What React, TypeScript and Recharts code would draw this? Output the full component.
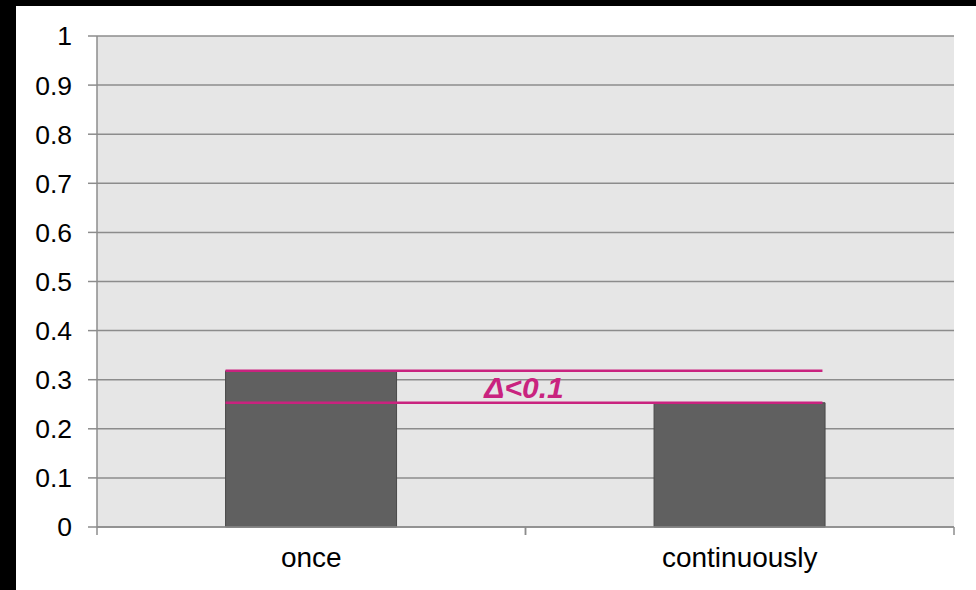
import React from 'react';
import { BarChart, Bar, XAxis, YAxis, CartesianGrid, ReferenceLine, Label } from 'recharts';

// Share of trials per presentation mode
const categories = ['once', 'continuously'];
const shares = [0.318, 0.253];
const yTicks = [0, 0.1, 0.2, 0.3, 0.4, 0.5, 0.6, 0.7, 0.8, 0.9, 1];
const deltaLabel = 'Δ<0.1';

// slot: centre of each category band on a continuous 0..n scale
const rows = categories.map((name, i) => ({ name, value: shares[i], slot: i + 0.5 }));

const FONT = '"Liberation Sans", Arial, sans-serif';
const AXIS_GREY = '#8c8c8c';
const MAGENTA = '#c9237f';

// Horizontal span of the comparison bracket, in units of category bands
const bracketFrom = 0.3;
const bracketTo = 1.693;

// Category tick: label under the band centre, tick marks on the band edges
function CategoryTick(props: any) {
  const { x, y, payload } = props;
  const half = payload?.offset ?? 0;
  return (
    <g>
      <line x1={x - half} y1={y} x2={x - half} y2={y + 8} stroke={AXIS_GREY} strokeWidth={1.5} />
      <line x1={x + half} y1={y} x2={x + half} y2={y + 8} stroke={AXIS_GREY} strokeWidth={1.5} />
      <text
        x={x}
        y={y + 20}
        dy="0.71em"
        textAnchor="middle"
        fill="#000"
        fontSize={28}
        fontFamily={FONT}
      >
        {payload.value}
      </text>
    </g>
  );
}

export default function App() {
  return (
    <div style={{ position: 'absolute', left: 0, top: 0, width: 976, height: 590, background: '#000' }}>
      <div style={{ position: 'absolute', left: 16, top: 6, width: 960, height: 584, background: '#fff' }}>
        <BarChart
          width={960}
          height={584}
          data={rows}
          margin={{ top: 30, right: 22, left: 0, bottom: 0 }}
          barCategoryGap="30%"
        >
          <CartesianGrid
            xAxisId="cat"
            vertical={false}
            fill="#e6e6e6"
            fillOpacity={1}
            stroke={AXIS_GREY}
            strokeWidth={1.5}
          />
          <XAxis
            xAxisId="num"
            dataKey="slot"
            type="number"
            domain={[0, 2]}
            allowDataOverflow
            hide
          />
          <XAxis
            xAxisId="cat"
            dataKey="name"
            height={63}
            axisLine={{ stroke: AXIS_GREY, strokeWidth: 1.5 }}
            tickLine={false}
            tickSize={0}
            tickMargin={0}
            tick={<CategoryTick />}
          />
          <YAxis
            width={81}
            domain={[0, 1]}
            ticks={yTicks}
            interval={0}
            axisLine={{ stroke: AXIS_GREY, strokeWidth: 1.5 }}
            tickLine={{ stroke: AXIS_GREY, strokeWidth: 1.5 }}
            tickSize={9}
            tickMargin={16}
            tick={{ fill: '#000', fontSize: 26.5, fontFamily: FONT }}
          />
          <Bar
            xAxisId="cat"
            dataKey="value"
            fill="#606060"
            stroke="#4a4a4a"
            strokeWidth={1}
            isAnimationActive={false}
          />
          <ReferenceLine
            xAxisId="num"
            ifOverflow="visible"
            segment={[{ x: bracketFrom, y: shares[0] }, { x: bracketTo, y: shares[0] }]}
            stroke={MAGENTA}
            strokeWidth={2.5}
          />
          <ReferenceLine
            xAxisId="num"
            ifOverflow="visible"
            segment={[{ x: bracketFrom, y: shares[1] }, { x: bracketTo, y: shares[1] }]}
            stroke={MAGENTA}
            strokeWidth={2.5}
          >
            <Label
              value={deltaLabel}
              position="top"
              offset={5}
              fill={MAGENTA}
              fontSize={30}
              fontWeight="bold"
              fontStyle="italic"
              fontFamily={FONT}
            />
          </ReferenceLine>
        </BarChart>
      </div>
    </div>
  );
}
